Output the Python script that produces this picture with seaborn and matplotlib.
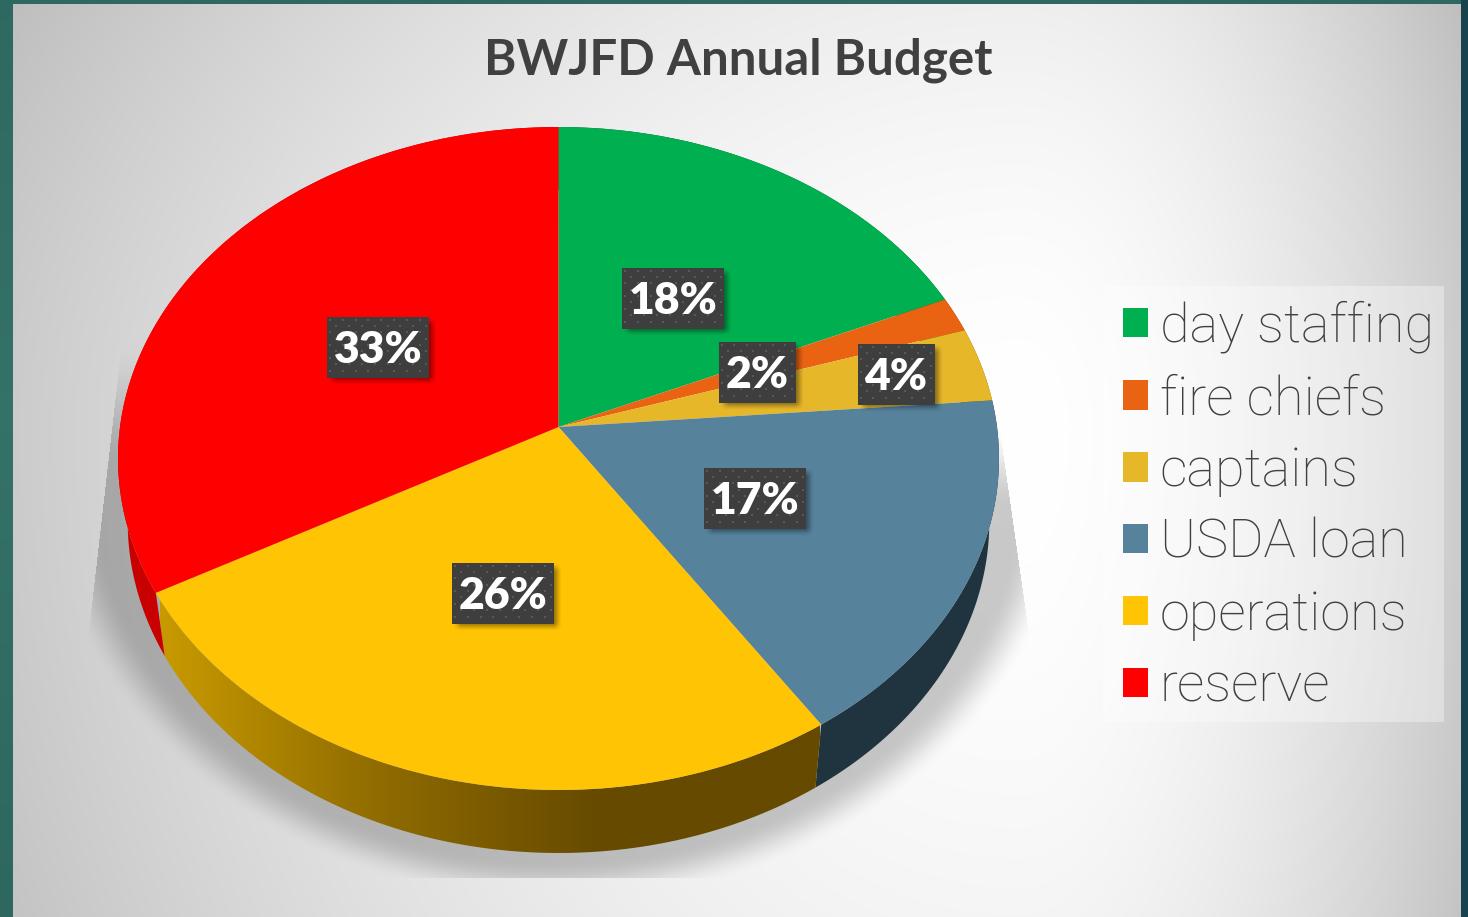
import numpy as np
import matplotlib
matplotlib.use("Agg")
import matplotlib.pyplot as plt
import matplotlib.transforms as mtransforms
from matplotlib.colors import LinearSegmentedColormap
from matplotlib.patches import Patch, Polygon, Rectangle
import seaborn as sns

# Data
categories = ["day staffing", "fire chiefs", "captains", "USDA loan", "operations", "reserve"]
shares = [18.4, 1.7, 3.6, 17.0, 26.3, 33.0]
slice_colors = ["#00b050", "#ea6312", "#e6b729", "#56829c", "#ffc404", "#ff0000"]
wall_colors = ["#00602c", "#7a3208", "#7a6014", "#1f343e", "#664a00", "#c80000"]
label_spots = [(673, 298), (757, 372), (896, 374), (755, 498), (503, 593), (378, 347)]
title = "BWJFD Annual Budget"

W, H = 1468, 917
CX, CY = 558.5, 427
TILT = 0.095
RX, RY = 438.5, 328.5
DEPTH = 63
WALL_SCALE = 0.978

sns.set_theme(style="white")
plt.rcParams["font.family"] = ["Lato", "DejaVu Sans"]


class Tilted(mtransforms.Transform):
    # unit circle -> tilted disc, in pixel coordinates
    input_dims = 2
    output_dims = 2

    def transform_non_affine(self, xy):
        xy = np.asarray(xy, dtype=float)
        w = 1 + TILT * xy[:, 1]
        return np.column_stack([CX + RX * xy[:, 0] / w, CY - RY * xy[:, 1] / w])


def rim(t1, t2, lower=False):
    t = np.radians(np.linspace(t1, t2, 200))
    pts = Tilted().transform_non_affine(np.column_stack([np.cos(t), np.sin(t)]))
    if lower:
        pts[:, 0] = CX + (pts[:, 0] - CX) * WALL_SCALE
        pts[:, 1] += DEPTH
    return pts


def smooth(v):
    v = np.clip(v, 0, 1)
    return v * v * (3 - 2 * v)


fig = plt.figure(figsize=(W / 100, H / 100), dpi=100)
ax = fig.add_axes([0, 0, 1, 1])

# background gradient, frame and soft shadow under the disc
yy, xx = np.mgrid[0:H, 0:W] + 0.5
nx = np.where(xx < 1020, (xx - 1020) / 1000, (xx - 1020) / 440)
ny = np.where(yy < 430, (yy - 430) / 800, (yy - 430) / 1200)
grey = 1 - 0.2 * np.hypot(nx, ny) ** 1.8

r = np.hypot((xx - 558) / 505, (yy - 470) / 425)
left_x = 120 + (yy - 360) * (88 - 120) / 280
right_x = 1000 + (yy - 430) * (1030 - 1000) / 210
inside = (xx > left_x) & (xx < right_x) & (yy < 878)
fade_up = np.where(xx < 558, smooth((yy - 340) / 130), smooth((yy - 420) / 90))
shade = 0.21 * smooth((1.02 - r) / 0.1) * inside * fade_up
grey = grey * (1 - shade)
bg = np.dstack([grey, grey, grey])

teal_left = np.array([0.21, 0.44, 0.41]) + (0.5 - np.abs(yy[:, :1] / H - 0.45)) * np.array([0.05, 0.07, 0.06]) - 0.03
left_band = np.repeat(teal_left[:, None, :], W, axis=1).reshape(H, W, 3)
frame = (xx < 13) | (yy < 4)
bg[frame] = left_band[frame]
bg[xx > 1461] = [0.10, 0.26, 0.31]
ax.imshow(bg, extent=(0, W, H, 0), aspect="auto", zorder=0)

# pie top face
wedges, _, autotexts = ax.pie(shares, colors=sns.color_palette(slice_colors), startangle=90,
                              counterclock=False, autopct="%.0f%%",
                              wedgeprops={"linewidth": 0, "zorder": 3})
tilted = Tilted() + ax.transData
for w in wedges:
    w.set_transform(tilted)

ax.set_aspect("auto")
ax.set_xlim(0, W)
ax.set_ylim(H, 0)
ax.axis("off")

# side walls
for w, c, name in zip(wedges, wall_colors, categories):
    top = rim(w.theta1, w.theta2)
    low = rim(w.theta1, w.theta2, lower=True)
    poly = np.vstack([top, low[::-1]])
    if name == "operations":
        cmap = LinearSegmentedColormap.from_list("wall", ["#c89a00", "#8f6b00", "#664a00", "#664a00"])
        im = ax.imshow(np.linspace(0, 1, 400)[None, :], extent=(160, 820, 860, 580), aspect="auto",
                       cmap=cmap, zorder=2)
        im.set_clip_path(Polygon(poly, transform=ax.transData))
    else:
        ax.fill(poly[:, 0], poly[:, 1], color=c, lw=0, zorder=2)
ax.set_xlim(0, W)
ax.set_ylim(H, 0)

# percent labels on dark dotted boxes
for txt, (lx, ly) in zip(autotexts, label_spots):
    bw = 102 if len(txt.get_text()) > 2 else 77
    bh = 61
    x0, y0 = lx - bw / 2, ly - bh / 2

    gy, gx = np.mgrid[y0 - 8:y0 + bh + 18, x0 - 8:x0 + bw + 18]
    soft = smooth((gx - x0) / 10) * smooth((x0 + bw + 8 - gx) / 10) * smooth((gy - y0) / 10) * smooth((y0 + bh + 8 - gy) / 10)
    rgba = np.zeros(soft.shape + (4,))
    rgba[..., 3] = soft * 0.42
    ax.imshow(rgba, extent=(x0 - 8, x0 + bw + 18, y0 + bh + 18, y0 - 8), aspect="auto", zorder=4)

    ax.add_patch(Rectangle((x0, y0), bw, bh, facecolor="#3e3e3e", edgecolor="none", zorder=5))
    dots_x, dots_y = [], []
    for i, dy in enumerate(np.arange(y0 + 3, y0 + bh - 1, 6.4)):
        for dx in np.arange(x0 + 3 + (i % 2) * 6.4, x0 + bw - 1, 12.8):
            dots_x.append(dx)
            dots_y.append(dy)
    ax.scatter(dots_x, dots_y, marker="s", s=3.5, color="#585858", linewidths=0, zorder=5.5)

    txt.set_position((lx, ly + 3))
    txt.set_ha("center")
    txt.set_va("center")
    txt.set_color("white")
    txt.set_fontsize(32)
    txt.set_fontweight("heavy")
    txt.set_zorder(6)

ax.set_xlim(0, W)
ax.set_ylim(H, 0)

ax.text(738, 60, title, ha="center", va="center", fontsize=35.5, fontweight="bold", color="#404040", zorder=6)

# legend
ax.add_patch(Rectangle((1103, 286), 341, 436, facecolor="white", alpha=0.35, edgecolor="none", zorder=1))
handles = [Patch(facecolor=c, edgecolor="none") for c in slice_colors]
ax.legend(handles, categories, loc="upper left", bbox_to_anchor=(1074 / W, 1 - 252 / H),
          bbox_transform=fig.transFigure, frameon=False,
          prop={"family": "Roboto", "size": 39, "weight": "light"},
          labelcolor="#404040", handlelength=0.46, handleheight=0.46, handletextpad=0.22,
          labelspacing=0.376, borderpad=0.4)

fig.savefig("out.png", dpi=100)
